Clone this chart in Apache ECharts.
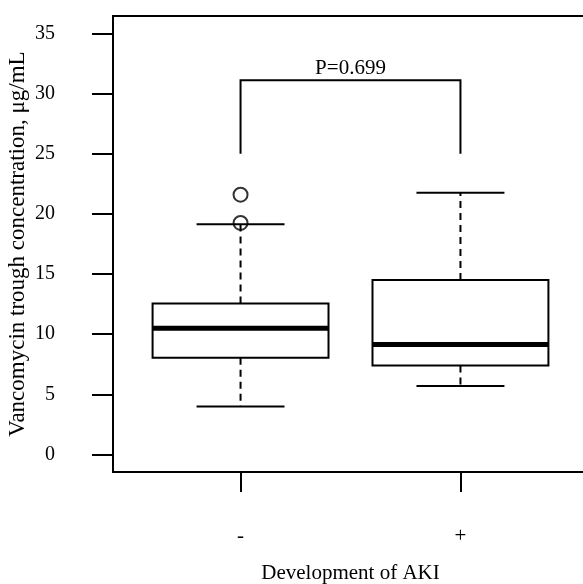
<!DOCTYPE html>
<html>
<head>
<meta charset="utf-8">
<script src="https://cdn.jsdelivr.net/npm/echarts@6/dist/echarts.min.js"></script>
<style>html,body{margin:0;padding:0;background:#fff}#c{width:583px;height:584px}</style>
</head>
<body>
<div id="c"></div>
<script>
var categories = ['-', '+'];
// [lowerWhisker, Q1, median, Q3, upperWhisker]
var boxStats = [
  [4.0, 8.05, 10.5, 12.55, 19.15],
  [5.7, 7.4, 9.15, 14.5, 21.75]
];
var outliers = [[1, 21.6], [1, 19.25]];
var yTicks = [0, 5, 10, 15, 20, 25, 30, 35];
var bracket = { left: 1, right: 2, top: 31.1, legBottom: 25, label: 'P=0.699' };

var font = '"Liberation Serif", "DejaVu Serif", serif';
var chart = echarts.init(document.getElementById('c'));

var boxData = boxStats.map(function (s, i) { return [i + 1].concat(s); });

chart.setOption({
  animation: false,
  backgroundColor: '#fff',
  grid: { left: 113, top: 16, width: 475, height: 456, show: true, borderColor: '#000', borderWidth: 2, backgroundColor: 'transparent', outerBoundsMode: 'none', containLabel: false },
  xAxis: {
    type: 'value', min: 0.42, max: 2.58,
    name: 'Development of AKI', nameLocation: 'middle', nameGap: 91, nameMoveOverlap: false,
    nameTextStyle: { fontFamily: font, fontSize: 21, color: '#000' },
    axisLine: { show: false, onZero: false },
    splitLine: { show: false },
    axisTick: { show: true, inside: false, length: 20, lineStyle: { color: '#000', width: 2 }, customValues: [1, 2] },
    axisLabel: { show: true, margin: 54, fontFamily: font, fontSize: 21, color: '#000', customValues: [1, 2],
      formatter: function (v) { return categories[Math.round(v) - 1] || ''; } }
  },
  yAxis: {
    type: 'value', min: -1.45, max: 36.45,
    name: 'Vancomycin trough concentration, μg/mL', nameLocation: 'middle', nameGap: 84, nameMoveOverlap: false,
    nameTextStyle: { fontFamily: font, fontSize: 23, color: '#000' },
    axisLine: { show: false, onZero: false },
    splitLine: { show: false },
    axisTick: { show: true, inside: false, length: 21, lineStyle: { color: '#000', width: 2 }, customValues: yTicks },
    axisLabel: { show: true, margin: 58, fontFamily: font, fontSize: 20, color: '#000', customValues: yTicks }
  },
  series: [
    {
      type: 'custom',
      data: boxData,
      encode: { x: 0, y: [1, 2, 3, 4, 5] },
      renderItem: function (params, api) {
        var x = api.value(0);
        var lw = api.value(1), q1 = api.value(2), med = api.value(3), q3 = api.value(4), uw = api.value(5);
        var half = 0.4, capHalf = 0.2;
        var pL = api.coord([x - half, q3]), pR = api.coord([x + half, q1]);
        var pMedL = api.coord([x - half, med]), pMedR = api.coord([x + half, med]);
        var pc = api.coord([x, 0]);
        var yLw = api.coord([x, lw])[1], yUw = api.coord([x, uw])[1];
        var yQ1 = pR[1], yQ3 = pL[1];
        var capL = api.coord([x - capHalf, 0])[0], capR = api.coord([x + capHalf, 0])[0];
        var cx = pc[0];
        return {
          type: 'group',
          children: [
            { type: 'line', shape: { x1: cx, y1: yQ3, x2: cx, y2: yUw }, style: { stroke: '#000', lineWidth: 2, lineDash: [7, 5] } },
            { type: 'line', shape: { x1: cx, y1: yQ1, x2: cx, y2: yLw }, style: { stroke: '#000', lineWidth: 2, lineDash: [7, 5] } },
            { type: 'line', shape: { x1: capL, y1: yUw, x2: capR, y2: yUw }, style: { stroke: '#000', lineWidth: 2 } },
            { type: 'line', shape: { x1: capL, y1: yLw, x2: capR, y2: yLw }, style: { stroke: '#000', lineWidth: 2 } },
            { type: 'rect', shape: { x: pL[0], y: yQ3, width: pR[0] - pL[0], height: yQ1 - yQ3 }, style: { fill: '#fff', stroke: '#000', lineWidth: 2 } },
            { type: 'line', shape: { x1: pMedL[0], y1: pMedL[1], x2: pMedR[0], y2: pMedR[1] }, style: { stroke: '#000', lineWidth: 5 } }
          ]
        };
      }
    },
    {
      type: 'scatter',
      data: outliers,
      symbol: 'circle', symbolSize: 14,
      itemStyle: { color: 'transparent', borderColor: '#000', borderWidth: 2 },
      z: 5
    },
    {
      type: 'custom',
      data: [[bracket.left, bracket.right, bracket.top, bracket.legBottom]],
      encode: { x: [0, 1], y: [2, 3] },
      renderItem: function (params, api) {
        var a = api.coord([api.value(0), api.value(3)]);
        var b = api.coord([api.value(0), api.value(2)]);
        var c = api.coord([api.value(1), api.value(2)]);
        var d = api.coord([api.value(1), api.value(3)]);
        return {
          type: 'group',
          children: [
            { type: 'polyline', shape: { points: [a, b, c, d] }, style: { stroke: '#000', lineWidth: 2, fill: null } },
            { type: 'text', x: (b[0] + c[0]) / 2, y: b[1] - 1, style: { text: bracket.label, fontFamily: font, fontSize: 21, fill: '#000', align: 'center', verticalAlign: 'bottom' } }
          ]
        };
      }
    }
  ]
});
</script>
</body>
</html>
